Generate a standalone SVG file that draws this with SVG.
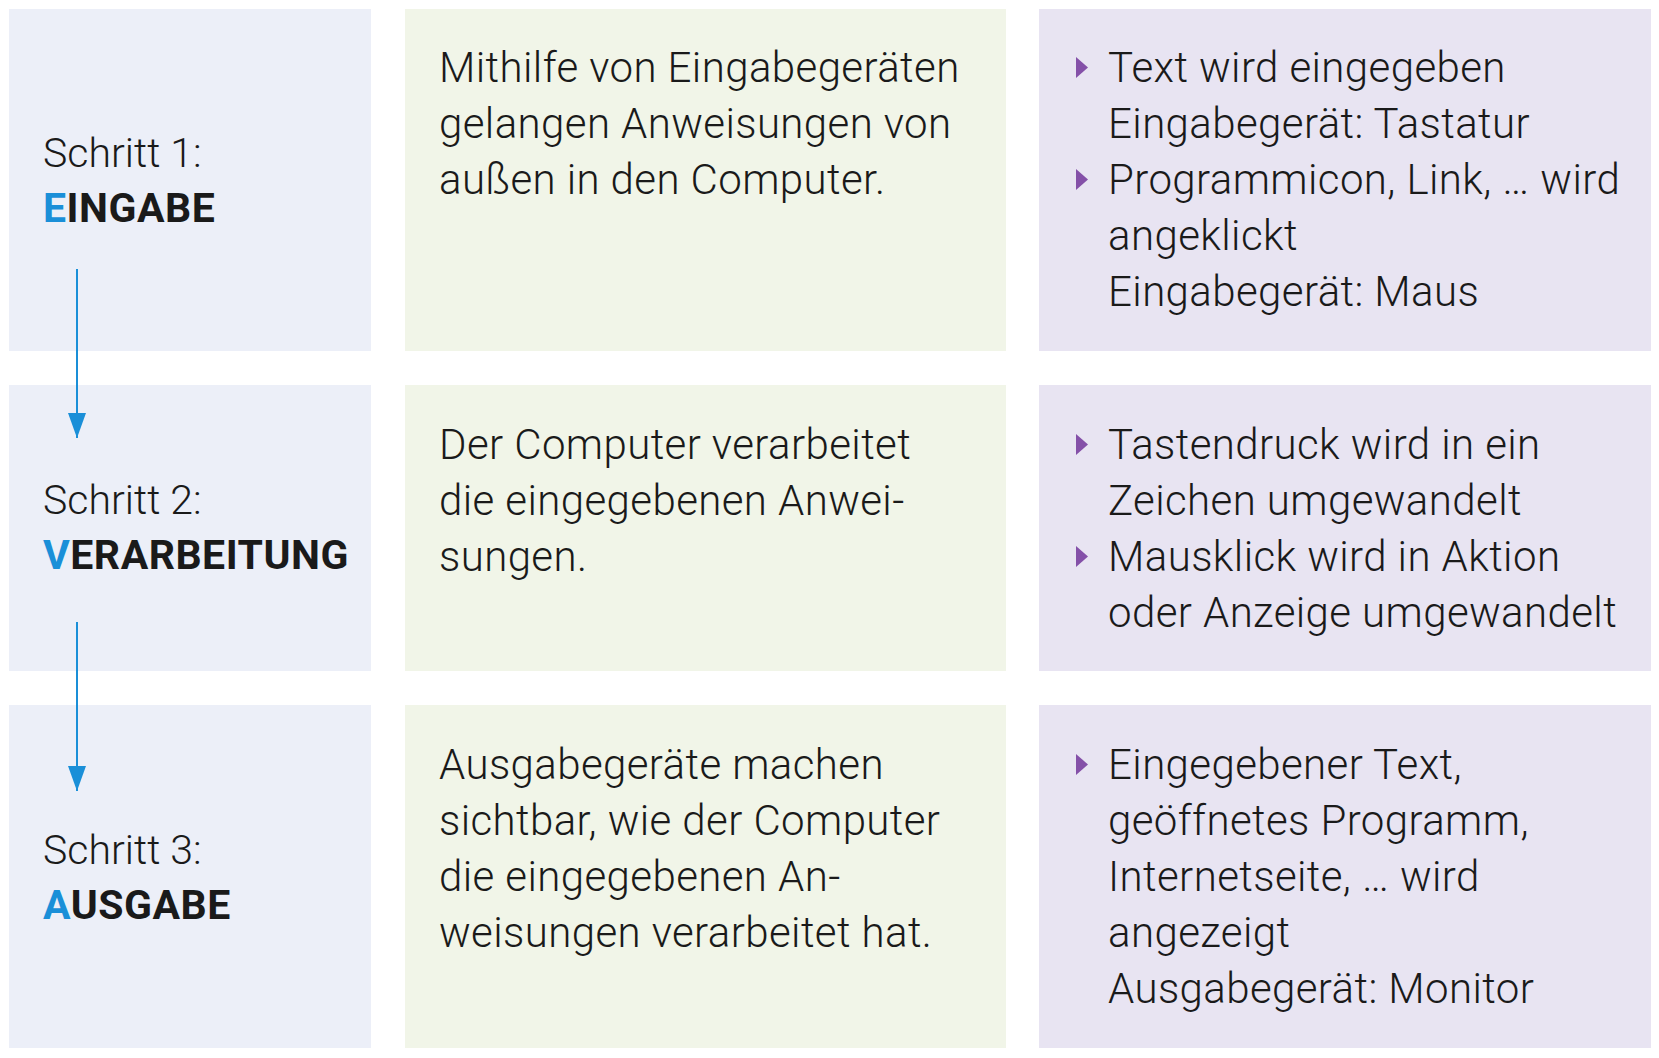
<svg xmlns="http://www.w3.org/2000/svg" width="1659" height="1058" viewBox="0 0 1659 1058">
<defs>
<style>
.c1{fill:#ECEFF8}
.c2{fill:#F1F5E8}
.c3{fill:#E8E4F2}
text{font-family:Roboto,"Liberation Sans",sans-serif;font-size:42px;fill:#1a1a1a}
.t{font-weight:300;letter-spacing:0.4px}
.s{font-weight:300;font-size:41px}
.h{font-weight:700;font-size:41px;letter-spacing:0.5px}
.b{fill:#1A8FD8}
.bul{fill:#8450A8}
.conn{stroke:#1A8FD8;stroke-width:2;fill:none}
</style>
<marker id="ah" markerUnits="userSpaceOnUse" markerWidth="25" markerHeight="18" refX="25" refY="9" orient="auto" viewBox="0 0 25 18">
<path d="M0,0 L25,9 L0,18 Z" fill="#1A8FD8"/>
</marker>
<path id="tri" d="M0,-25 L12,-14.5 L0,-4 Z"/>
</defs>
<rect width="1659" height="1058" fill="#ffffff"/>

<g id="step1">
<rect class="c1" x="9" y="9" width="362" height="342"/>
<text class="s" x="43" y="167">Schritt 1:</text>
<text class="h" x="43" y="222"><tspan class="b">E</tspan>INGABE</text>
</g>
<g id="desc1">
<rect class="c2" x="405" y="9" width="601" height="342"/>
<text class="t" x="439" y="82">Mithilfe von Eingabegeräten</text>
<text class="t" x="439" y="138">gelangen Anweisungen von</text>
<text class="t" x="439" y="194">außen in den Computer.</text>
</g>
<g id="ex1">
<rect class="c3" x="1039" y="9" width="612" height="342"/>
<use href="#tri" class="bul" x="1076" y="82"/>
<use href="#tri" class="bul" x="1076" y="194"/>
<text class="t" x="1108" y="82">Text wird eingegeben</text>
<text class="t" x="1108" y="138">Eingabegerät: Tastatur</text>
<text class="t" x="1108" y="194">Programmicon, Link, … wird</text>
<text class="t" x="1108" y="250">angeklickt</text>
<text class="t" x="1108" y="306">Eingabegerät: Maus</text>
</g>

<g id="step2">
<rect class="c1" x="9" y="385" width="362" height="286"/>
<text class="s" x="43" y="514">Schritt 2:</text>
<text class="h" x="43" y="569"><tspan class="b">V</tspan>ERARBEITUNG</text>
</g>
<g id="desc2">
<rect class="c2" x="405" y="385" width="601" height="286"/>
<text class="t" x="439" y="459">Der Computer verarbeitet</text>
<text class="t" x="439" y="515">die eingegebenen Anwei-</text>
<text class="t" x="439" y="571">sungen.</text>
</g>
<g id="ex2">
<rect class="c3" x="1039" y="385" width="612" height="286"/>
<use href="#tri" class="bul" x="1076" y="459"/>
<use href="#tri" class="bul" x="1076" y="571"/>
<text class="t" x="1108" y="459">Tastendruck wird in ein</text>
<text class="t" x="1108" y="515">Zeichen umgewandelt</text>
<text class="t" x="1108" y="571">Mausklick wird in Aktion</text>
<text class="t" x="1108" y="627">oder Anzeige umgewandelt</text>
</g>

<g id="step3">
<rect class="c1" x="9" y="705" width="362" height="343"/>
<text class="s" x="43" y="864">Schritt 3:</text>
<text class="h" x="43" y="919"><tspan class="b">A</tspan>USGABE</text>
</g>
<g id="desc3">
<rect class="c2" x="405" y="705" width="601" height="343"/>
<text class="t" x="439" y="779">Ausgabegeräte machen</text>
<text class="t" x="439" y="835">sichtbar, wie der Computer</text>
<text class="t" x="439" y="891">die eingegebenen An-</text>
<text class="t" x="439" y="947">weisungen verarbeitet hat.</text>
</g>
<g id="ex3">
<rect class="c3" x="1039" y="705" width="612" height="343"/>
<use href="#tri" class="bul" x="1076" y="779"/>
<text class="t" x="1108" y="779">Eingegebener Text,</text>
<text class="t" x="1108" y="835">geöffnetes Programm,</text>
<text class="t" x="1108" y="891">Internetseite, … wird</text>
<text class="t" x="1108" y="947">angezeigt</text>
<text class="t" x="1108" y="1003">Ausgabegerät: Monitor</text>
</g>

<g id="connectors">
<line class="conn" x1="77" y1="269" x2="77" y2="438" marker-end="url(#ah)"/>
<line class="conn" x1="77" y1="622" x2="77" y2="791" marker-end="url(#ah)"/>
</g>
</svg>
